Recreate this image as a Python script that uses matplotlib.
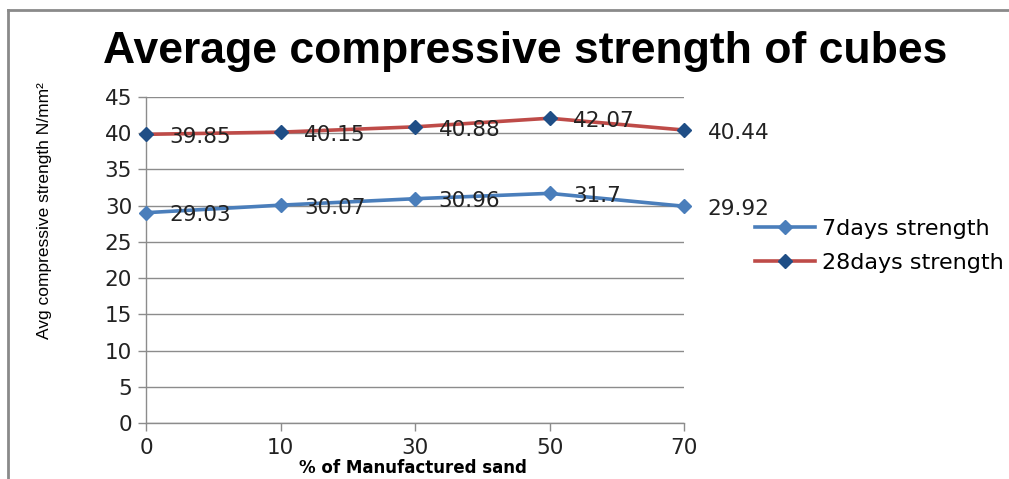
"""Line chart: average compressive strength of cubes vs manufactured sand content."""
import matplotlib.pyplot as plt
from matplotlib.lines import Line2D

# Data
sand_percent = ["0", "10", "30", "50", "70"]
strength_7d = [29.03, 30.07, 30.96, 31.7, 29.92]
strength_28d = [39.85, 40.15, 40.88, 42.07, 40.44]
y_ticks = [0, 5, 10, 15, 20, 25, 30, 35, 40, 45]

BLUE = "#4a7ebb"
RED = "#be4b48"
NAVY = "#1f4e86"
GRID = "#8c8c8c"
LABEL_FONT = "DejaVu Sans"
LABEL_SIZE = 15.5

W, H = 1009, 479
fig = plt.figure(figsize=(W / 100, H / 100), dpi=100)
ax = fig.add_axes([146 / W, 56 / H, 538 / W, 326 / H])

x = list(range(len(sand_percent)))
ax.plot(x, strength_7d, color=BLUE, lw=2.6, marker="D", ms=7,
        mfc=BLUE, mec=BLUE, zorder=3, clip_on=False)
ax.plot(x, strength_28d, color=RED, lw=2.6, marker="D", ms=7,
        mfc=NAVY, mec=NAVY, zorder=3, clip_on=False)

# value labels to the right of each point
for series in (strength_7d, strength_28d):
    for xi, v in zip(x, series):
        ax.annotate(f"{v:g}", (xi, v), xytext=(17, -2), textcoords="offset points",
                    ha="left", va="center", fontsize=LABEL_SIZE,
                    family=LABEL_FONT, color="#222222", annotation_clip=False)

ax.set_xlim(0, len(x) - 1)
ax.set_ylim(0, 45)
ax.set_yticks(y_ticks)
ax.set_xticks(x)
ax.set_xticklabels(sand_percent)
ax.grid(axis="y", color=GRID, lw=1)
ax.set_axisbelow(True)

for side in ("top", "right"):
    ax.spines[side].set_visible(False)
for side in ("left", "bottom"):
    ax.spines[side].set_color(GRID)
    ax.spines[side].set_linewidth(1)

ax.tick_params(axis="both", colors=GRID, labelcolor="#222222", length=6,
               width=1, labelsize=LABEL_SIZE)
ax.tick_params(axis="x", pad=5)
ax.tick_params(axis="y", pad=4)
for lab in ax.get_xticklabels() + ax.get_yticklabels():
    lab.set_family(LABEL_FONT)

handles = [
    Line2D([], [], color=BLUE, lw=2.6, marker="D", ms=7, mfc=BLUE, mec=BLUE),
    Line2D([], [], color=RED, lw=2.6, marker="D", ms=7, mfc=NAVY, mec=NAVY),
]
fig.legend(handles, ["7days strength", "28days strength"],
           loc="center left", bbox_to_anchor=(735 / W, 1 - 246 / H),
           frameon=False, handlelength=2.7, handletextpad=0.3,
           labelspacing=0.65, prop={"family": LABEL_FONT, "size": 16})

fig.text(525 / W, 1 - 51 / H, "Average compressive strength of cubes",
         ha="center", va="center", fontsize=32, fontweight="bold",
         family="Liberation Sans")
fig.text(45 / W, 1 - 211 / H, "Avg compressive strength N/mm²",
         rotation=90, ha="center", va="center", fontsize=12.5,
         family=["Liberation Sans Narrow", "Liberation Sans"])
fig.text(413 / W, 1 - 468 / H, "% of Manufactured sand",
         ha="center", va="center", fontsize=12, fontweight="bold",
         family=LABEL_FONT)

# chart frame: top and left edges only
fig.add_artist(Line2D([8 / W, 1], [1 - 10 / H, 1 - 10 / H], color="#8a8a8a", lw=2))
fig.add_artist(Line2D([8 / W, 8 / W], [0, 1 - 10 / H], color="#8a8a8a", lw=2))

fig.savefig("out.png", dpi=100)
